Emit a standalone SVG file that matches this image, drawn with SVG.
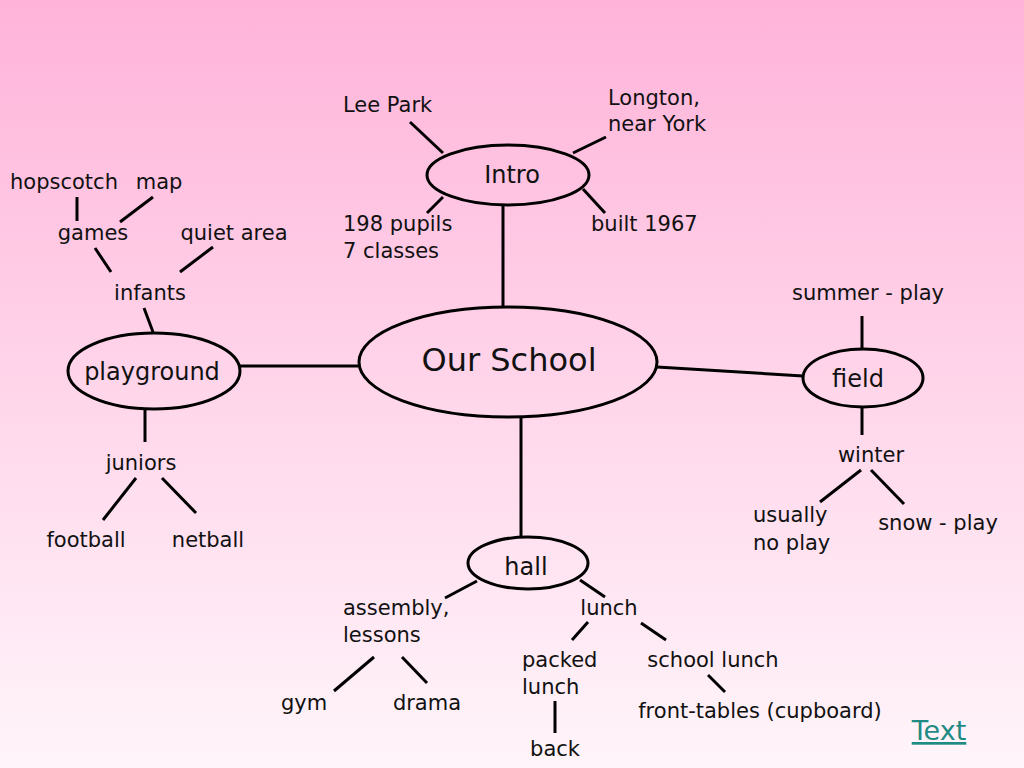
<svg xmlns="http://www.w3.org/2000/svg" width="1024" height="768" viewBox="0 0 1024 768">
<defs>
<linearGradient id="bg" x1="0" y1="0" x2="0" y2="1">
<stop offset="0" stop-color="#FFB3D9"/>
<stop offset="0.5" stop-color="#FFD5EA"/>
<stop offset="1" stop-color="#FFF5FA"/>
</linearGradient>
<style>
text{font-family:"Comic Sans MS","DejaVu Sans","Noto Sans",sans-serif;font-size:21px;fill:#111}
.n{fill:none;stroke:#000;stroke-width:3}
.c line{stroke:#000;stroke-width:3}
.big{font-size:32px}
.mid{font-size:24px}
.link{fill:#1E8C84;font-size:27px;text-decoration:underline}
</style>
</defs>
<rect width="1024" height="768" fill="url(#bg)"/>
<g class="c" id="connectors">
<line x1="503" y1="206" x2="503" y2="306"/>
<line x1="410" y1="122" x2="443" y2="153"/>
<line x1="606" y1="137" x2="573" y2="153"/>
<line x1="443" y1="197" x2="427" y2="213"/>
<line x1="583" y1="189" x2="605" y2="213"/>
<line x1="239" y1="366" x2="358" y2="366"/>
<line x1="144" y1="308" x2="153" y2="332"/>
<line x1="95" y1="248" x2="111" y2="272"/>
<line x1="213" y1="247" x2="180" y2="272"/>
<line x1="77" y1="197" x2="77" y2="221"/>
<line x1="153" y1="197" x2="120" y2="222"/>
<line x1="145" y1="410" x2="145" y2="442"/>
<line x1="136" y1="478" x2="103" y2="520"/>
<line x1="162" y1="478" x2="196" y2="513"/>
<line x1="657" y1="367" x2="803" y2="376"/>
<line x1="862" y1="316" x2="862" y2="349"/>
<line x1="862" y1="407" x2="862" y2="435"/>
<line x1="861" y1="470" x2="820" y2="502"/>
<line x1="871" y1="470" x2="904" y2="504"/>
<line x1="521" y1="418" x2="521" y2="537"/>
<line x1="477" y1="581" x2="445" y2="598"/>
<line x1="580" y1="580" x2="605" y2="597"/>
<line x1="588" y1="622" x2="572" y2="640"/>
<line x1="641" y1="623" x2="666" y2="640"/>
<line x1="374" y1="657" x2="334" y2="691"/>
<line x1="402" y1="657" x2="427" y2="683"/>
<line x1="555" y1="701" x2="555" y2="733"/>
<line x1="708" y1="675" x2="725" y2="692"/>
</g>
<g id="our-school"><ellipse class="n" cx="508" cy="362" rx="149" ry="55"/><text class="big" x="509" y="371" text-anchor="middle">Our School</text></g>
<g id="intro"><ellipse class="n" cx="508" cy="175" rx="81" ry="30"/><text class="mid" x="512" y="183" text-anchor="middle">Intro</text></g>
<g id="lee-park"><text x="343" y="112">Lee Park</text></g>
<g id="longton"><text x="608" y="105">Longton,</text><text x="608" y="131">near York</text></g>
<g id="pupils"><text x="343" y="231">198 pupils</text><text x="343" y="258">7 classes</text></g>
<g id="built"><text x="591" y="231">built 1967</text></g>
<g id="playground"><ellipse class="n" cx="154" cy="371" rx="86" ry="38"/><text class="mid" x="152" y="380" text-anchor="middle">playground</text></g>
<g id="infants"><text x="150" y="300" text-anchor="middle">infants</text></g>
<g id="games"><text x="93" y="240" text-anchor="middle">games</text></g>
<g id="quiet-area"><text x="234" y="240" text-anchor="middle">quiet area</text></g>
<g id="hopscotch"><text x="64" y="189" text-anchor="middle">hopscotch</text></g>
<g id="map"><text x="159" y="189" text-anchor="middle">map</text></g>
<g id="juniors"><text x="141" y="470" text-anchor="middle">juniors</text></g>
<g id="football"><text x="86" y="547" text-anchor="middle">football</text></g>
<g id="netball"><text x="208" y="547" text-anchor="middle">netball</text></g>
<g id="field"><ellipse class="n" cx="863" cy="378" rx="60" ry="29"/><text class="mid" x="858" y="387" text-anchor="middle">field</text></g>
<g id="summer"><text x="868" y="300" text-anchor="middle">summer - play</text></g>
<g id="winter"><text x="871" y="462" text-anchor="middle">winter</text></g>
<g id="usually"><text x="753" y="522">usually</text><text x="753" y="550">no play</text></g>
<g id="snow"><text x="938" y="530" text-anchor="middle">snow - play</text></g>
<g id="hall"><ellipse class="n" cx="528" cy="563" rx="60" ry="26"/><text class="mid" x="526" y="575" text-anchor="middle">hall</text></g>
<g id="assembly"><text x="343" y="615">assembly,</text><text x="343" y="642">lessons</text></g>
<g id="lunch"><text x="609" y="615" text-anchor="middle">lunch</text></g>
<g id="packed"><text x="522" y="667">packed</text><text x="522" y="694">lunch</text></g>
<g id="school-lunch"><text x="713" y="667" text-anchor="middle">school lunch</text></g>
<g id="gym"><text x="304" y="710" text-anchor="middle">gym</text></g>
<g id="drama"><text x="427" y="710" text-anchor="middle">drama</text></g>
<g id="back"><text x="555" y="756" text-anchor="middle">back</text></g>
<g id="front-tables"><text x="760" y="718" text-anchor="middle">front-tables (cupboard)</text></g>
<g id="text-link"><text class="link" x="939" y="740" text-anchor="middle">Text</text></g>
</svg>
